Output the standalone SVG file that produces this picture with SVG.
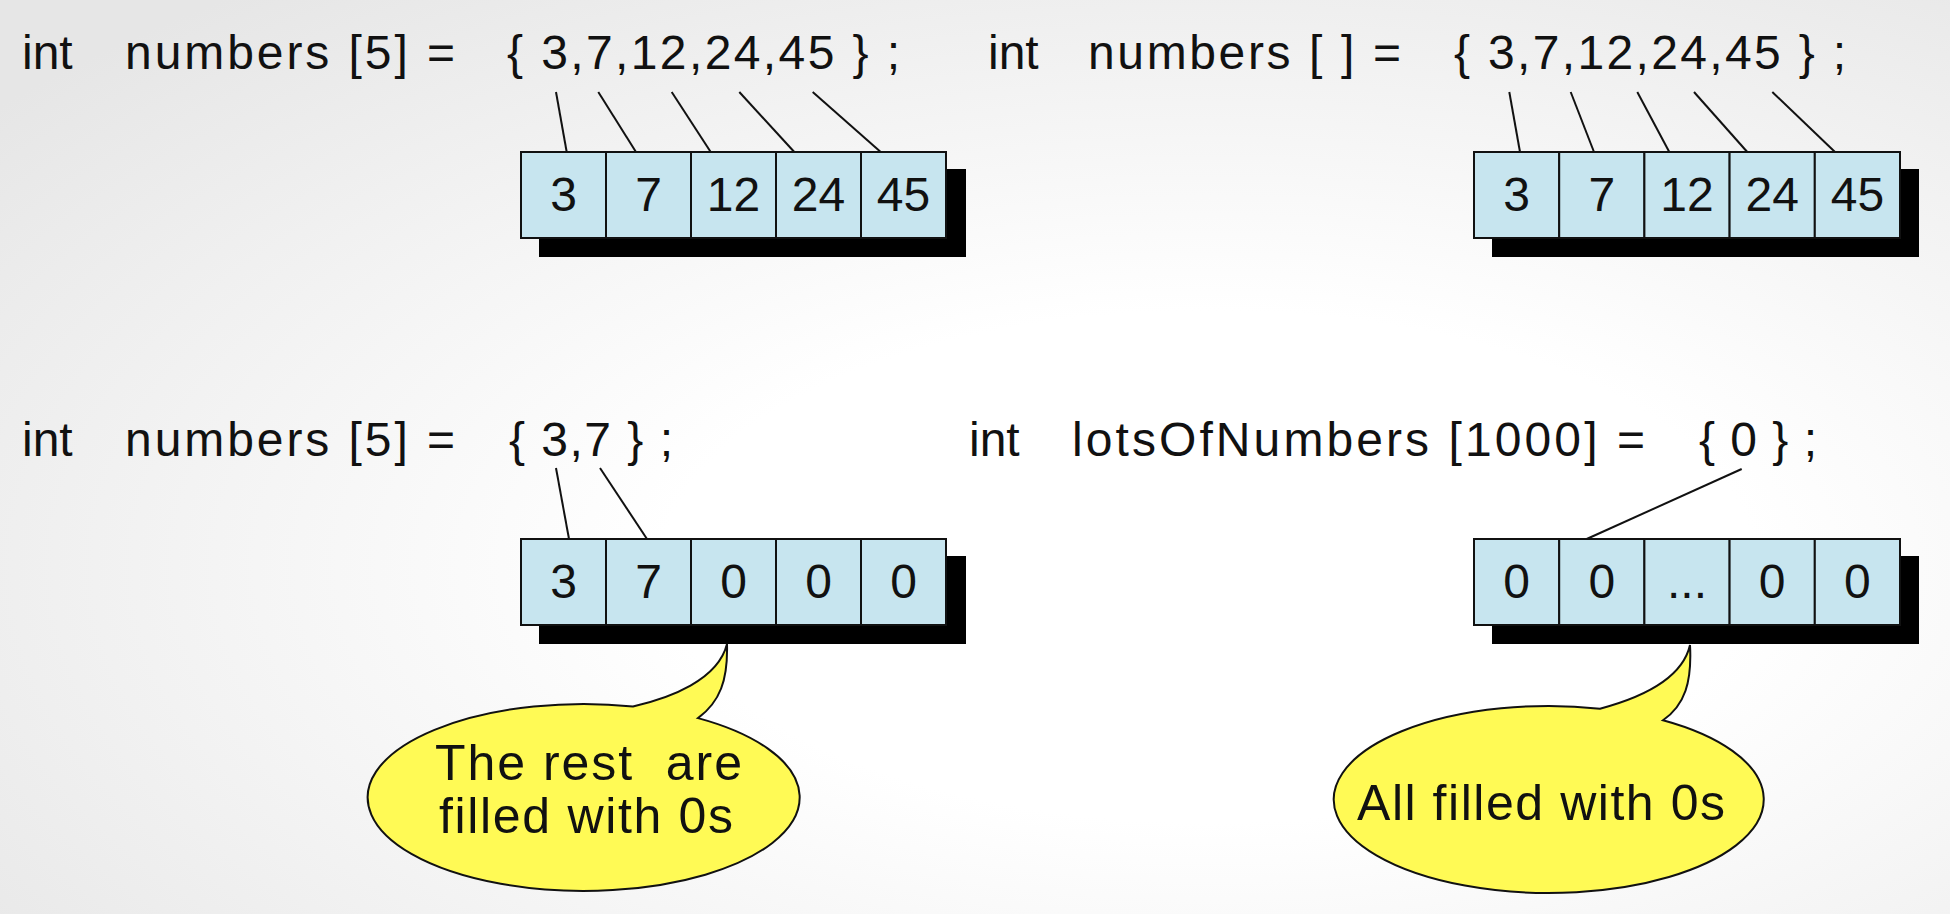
<svg xmlns="http://www.w3.org/2000/svg" width="1950" height="914" viewBox="0 0 1950 914">
<defs>
<radialGradient id="bg" cx="0.62" cy="0.62" r="0.8">
<stop offset="0.35" stop-color="#ffffff"/>
<stop offset="1" stop-color="#e6e6e6"/>
</radialGradient>
<style>
.t{font-family:"Liberation Sans",Arial,sans-serif;font-size:48px;fill:#111}
.d{font-family:"Liberation Sans",Arial,sans-serif;font-size:48px;fill:#111;text-anchor:middle}
.b{font-family:"Liberation Sans",Arial,sans-serif;font-size:50px;fill:#111}
.cell{fill:#c7e5ef;stroke:#111;stroke-width:2}
.sh{fill:#000}
.ln{stroke:#111;stroke-width:2;fill:none}
.bub{fill:#fffa55;stroke:#111;stroke-width:2}
</style>
</defs>
<rect x="0" y="0" width="1950" height="914" fill="url(#bg)"/>

<g id="stmt1">
<text class="t" x="22" y="69">int</text>
<text class="t" x="125" y="69" textLength="330" lengthAdjust="spacing">numbers [5] =</text>
<text class="t" x="507" y="69" textLength="393" lengthAdjust="spacing">{ 3,7,12,24,45 } ;</text>
</g>
<g id="stmt2">
<text class="t" x="988" y="69">int</text>
<text class="t" x="1088" y="69" textLength="313" lengthAdjust="spacing">numbers [ ] =</text>
<text class="t" x="1454" y="69" textLength="392" lengthAdjust="spacing">{ 3,7,12,24,45 } ;</text>
</g>
<g id="stmt3">
<text class="t" x="22" y="456">int</text>
<text class="t" x="125" y="456" textLength="330" lengthAdjust="spacing">numbers [5] =</text>
<text class="t" x="509" y="456" textLength="164" lengthAdjust="spacing">{ 3,7 } ;</text>
</g>
<g id="stmt4">
<text class="t" x="969" y="456">int</text>
<text class="t" x="1072" y="456" textLength="573" lengthAdjust="spacing">lotsOfNumbers [1000] =</text>
<text class="t" x="1699" y="456" textLength="118" lengthAdjust="spacing">{ 0 } ;</text>
</g>

<g id="array1">
<rect class="sh" x="539" y="169" width="427" height="88"/>
<rect class="cell" x="521" y="152" width="85" height="86"/>
<rect class="cell" x="606" y="152" width="85" height="86"/>
<rect class="cell" x="691" y="152" width="85" height="86"/>
<rect class="cell" x="776" y="152" width="85" height="86"/>
<rect class="cell" x="861" y="152" width="85" height="86"/>
<text class="d" x="563.5" y="211">3</text>
<text class="d" x="648.5" y="211">7</text>
<text class="d" x="733.5" y="211">12</text>
<text class="d" x="818.5" y="211">24</text>
<text class="d" x="903.5" y="211">45</text>
</g>
<g id="array2">
<rect class="sh" x="1492" y="169" width="427" height="88"/>
<rect class="cell" x="1474" y="152" width="85.2" height="86"/>
<rect class="cell" x="1559.2" y="152" width="85.2" height="86"/>
<rect class="cell" x="1644.4" y="152" width="85.2" height="86"/>
<rect class="cell" x="1729.6" y="152" width="85.2" height="86"/>
<rect class="cell" x="1814.8" y="152" width="85.2" height="86"/>
<text class="d" x="1516.6" y="211">3</text>
<text class="d" x="1601.8" y="211">7</text>
<text class="d" x="1687" y="211">12</text>
<text class="d" x="1772.2" y="211">24</text>
<text class="d" x="1857.4" y="211">45</text>
</g>
<g id="array3">
<rect class="sh" x="539" y="556" width="427" height="88"/>
<rect class="cell" x="521" y="539" width="85" height="86"/>
<rect class="cell" x="606" y="539" width="85" height="86"/>
<rect class="cell" x="691" y="539" width="85" height="86"/>
<rect class="cell" x="776" y="539" width="85" height="86"/>
<rect class="cell" x="861" y="539" width="85" height="86"/>
<text class="d" x="563.5" y="598">3</text>
<text class="d" x="648.5" y="598">7</text>
<text class="d" x="733.5" y="598">0</text>
<text class="d" x="818.5" y="598">0</text>
<text class="d" x="903.5" y="598">0</text>
</g>
<g id="array4">
<rect class="sh" x="1492" y="556" width="427" height="88"/>
<rect class="cell" x="1474" y="539" width="85.2" height="86"/>
<rect class="cell" x="1559.2" y="539" width="85.2" height="86"/>
<rect class="cell" x="1644.4" y="539" width="85.2" height="86"/>
<rect class="cell" x="1729.6" y="539" width="85.2" height="86"/>
<rect class="cell" x="1814.8" y="539" width="85.2" height="86"/>
<text class="d" x="1516.6" y="598">0</text>
<text class="d" x="1601.8" y="598">0</text>
<text class="d" x="1687" y="598">...</text>
<text class="d" x="1772.2" y="598">0</text>
<text class="d" x="1857.4" y="598">0</text>
</g>

<g id="connectors">
<line class="ln" x1="556" y1="92" x2="566.7" y2="152"/>
<line class="ln" x1="598.3" y1="92" x2="636" y2="152"/>
<line class="ln" x1="671.7" y1="92" x2="710.7" y2="152"/>
<line class="ln" x1="739.3" y1="92" x2="794.3" y2="152"/>
<line class="ln" x1="812.7" y1="92" x2="880.7" y2="152"/>
<line class="ln" x1="1509.3" y1="92" x2="1520" y2="152"/>
<line class="ln" x1="1570.7" y1="92" x2="1594" y2="152"/>
<line class="ln" x1="1637.3" y1="92" x2="1669.3" y2="152"/>
<line class="ln" x1="1694" y1="92" x2="1747.3" y2="152"/>
<line class="ln" x1="1772.3" y1="92" x2="1835" y2="152"/>
<line class="ln" x1="556" y1="468" x2="569" y2="539"/>
<line class="ln" x1="600" y1="468" x2="647" y2="539"/>
<line class="ln" x1="1741.7" y1="469" x2="1586.7" y2="539"/>
</g>

<g id="callout1">
<path class="bub" d="M 633,706.4 C 670,698 718,680 727,644 C 728,680 720,702 698,718.1 A 216 93.5 0 1 1 633,706.4 Z"/>
<text class="b" x="435" y="780" textLength="307" lengthAdjust="spacing" xml:space="preserve">The rest  are</text>
<text class="b" x="439" y="833" textLength="294" lengthAdjust="spacing">filled with 0s</text>
</g>
<g id="callout2">
<path class="bub" d="M 1600,708.7 C 1640,698 1682,680 1690,645 C 1692,682 1685,705 1663,720.3 A 215 93.5 0 1 1 1600,708.7 Z"/>
<text class="b" x="1357" y="820" textLength="368" lengthAdjust="spacing">All filled with 0s</text>
</g>
</svg>
